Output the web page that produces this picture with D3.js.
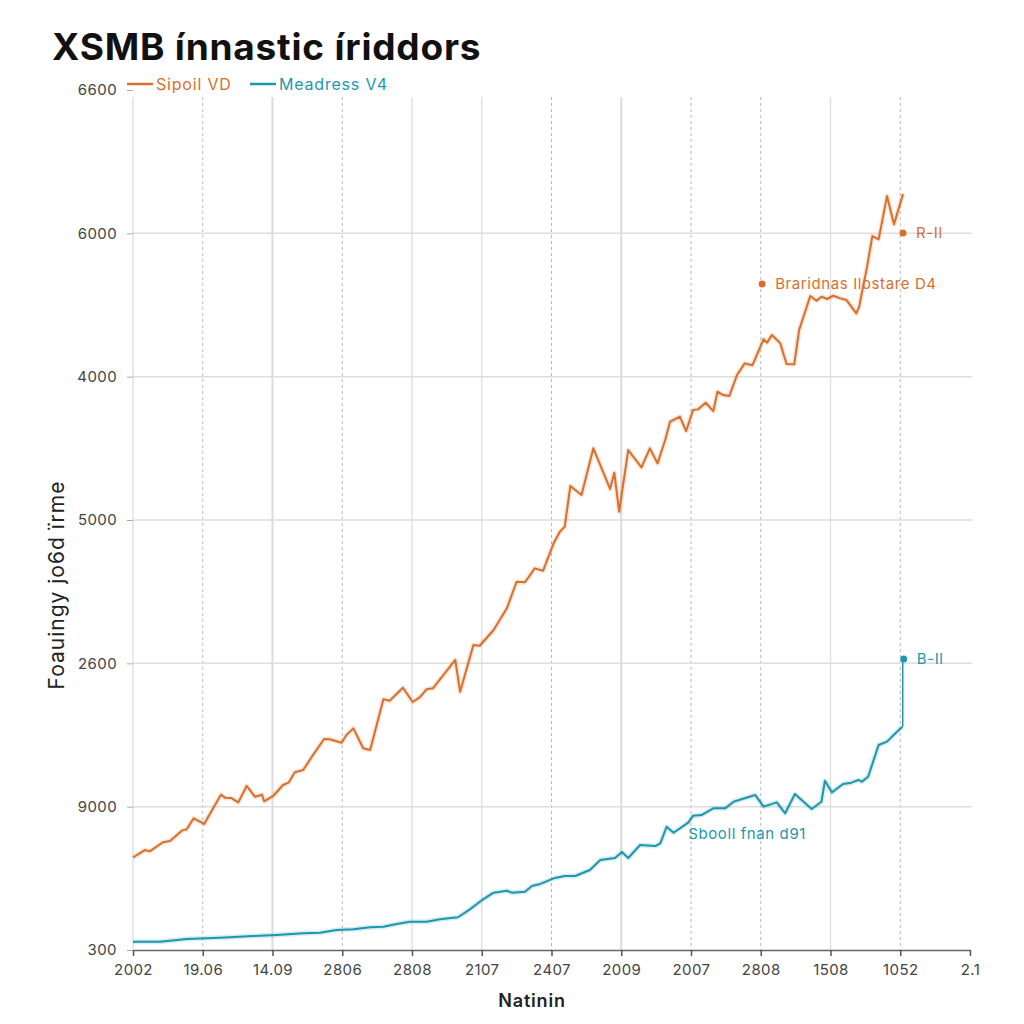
<!DOCTYPE html>
<html><head><meta charset="utf-8">
<script src="https://cdn.jsdelivr.net/npm/d3@7/dist/d3.min.js"></script>
<style>body{margin:0;background:#fff}svg{display:block}</style>
</head><body>
<svg id="c" width="1024" height="1024"></svg>
<script>
// ---- data ----
const xTickLabels = ["2002","19.06","14.09","2806","2808","2107","2407","2009","2007","2808","1508","1052","2.1"];
const xTickStyles = ["solid","dot","thick","dot","solid","solid","dot","thick","dot","dot","solid","dot","none"];
const yTickLabels = ["300","9000","2600","5000","4000","6000","6600"];
const seriesNames = ["Sipoil VD","Meadress V4"];
const seriesColors = ["#d6702f","#1e97ad"];
const orangeX = [0,1.7,2.4,4.3,5.3,7.0,7.7,8.7,10.2,12.6,13.2,14.1,15.1,16.3,17.5,18.5,18.8,20.1,21.5,22.3,23.2,24.4,25.8,27.4,28.2,29.9,30.6,31.6,33.0,34.0,35.9,36.8,38.7,40.1,41.1,42.1,43.0,46.2,46.9,48.8,49.7,51.7,53.6,55.0,56.2,57.6,58.8,60.3,61.2,61.9,62.7,64.3,66.0,68.4,69.0,69.7,71.0,72.9,74.1,75.2,76.3,77.0,78.4,79.3,80.3,81.0,82.1,83.2,83.8,84.6,85.5,86.6,87.7,88.8,90.4,90.9,91.6,92.8,93.7,94.8,95.5,97.1,98.0,98.7,99.5,100.4,101.4,102.3,103.7,104.1,105.2,106.0,106.9,108.1,109.1,110.4];
const orangeY = [710,767,757,827,836,916,926,1011,967,1192,1169,1166,1133,1259,1176,1192,1141,1182,1266,1284,1364,1381,1496,1619,1617,1591,1650,1701,1548,1535,1924,1913,2013,1903,1939,2001,2008,2226,1982,2341,2335,2456,2622,2826,2822,2929,2911,3121,3210,3249,3561,3492,3850,3538,3663,3364,3837,3704,3850,3735,3914,4054,4093,3983,4144,4149,4200,4136,4285,4259,4252,4413,4502,4487,4687,4661,4720,4656,4497,4495,4758,5019,4983,5014,4996,5021,5001,4988,4886,4937,5231,5479,5454,5786,5569,5802];
const tealX = [0,3.9,7.7,12.5,17.2,20.6,24.4,26.8,29.2,31.6,34.0,35.9,37.8,39.7,42.1,44.0,46.6,48.3,50.2,51.7,53.6,54.3,56.2,57.2,58.4,60.5,61.9,63.4,65.5,67.0,69.1,70.1,71.0,72.7,74.9,75.6,76.5,77.5,79.6,80.3,81.5,83.2,84.9,86.1,89.2,90.4,92.3,93.5,94.9,97.3,98.7,99.2,100.2,101.8,103.0,104.0,104.5,105.4,106.9,108.1,109.2,110.3];
const tealY = [64,64,84,94,107,115,128,133,153,159,174,179,200,217,217,236,251,312,389,440,455,440,447,491,507,553,568,568,614,691,706,752,706,806,798,819,946,900,977,1031,1036,1087,1087,1138,1190,1100,1133,1049,1197,1082,1138,1299,1210,1274,1284,1305,1292,1330,1573,1599,1658,1714];
const annotations = [
  {x:90.2, y:5111, text:"Braridnas Ilostare D4", color:0, dot:true},
  {x:110.4, y:5502, text:"R-Il", color:0, dot:true},
  {x:110.5, y:2233, text:"B-Il", color:1, dot:true, stemFrom:1714},
  {x:79.6, y:890, text:"Sbooll fnan d91", color:1, dot:false}
];

// ---- layout ----
const svg = d3.select("#c");
const m = {l:133, r:970, t:90, b:950};
const x = d3.scaleLinear().domain([0,120]).range([m.l, m.r]);
const y = d3.scaleLinear().domain([0,6600]).range([m.b, m.t]);
const yTickVals = d3.range(7).map(i => i*1100);
const xTickVals = d3.range(13).map(i => i*10);
const FONT = "Inter, 'Open Sans', sans-serif";

// vertical grid
const vg = svg.append("g");
xTickVals.forEach((v,i) => {
  const s = xTickStyles[i];
  if (s === "none") return;
  vg.append("line").attr("x1", x(v)).attr("x2", x(v)).attr("y1", 97).attr("y2", m.b)
    .attr("stroke", s === "dot" ? "#b8b8b8" : "#dedede")
    .attr("stroke-width", s === "thick" ? 2.2 : (s === "dot" ? 1 : 1.3))
    .attr("stroke-dasharray", s === "dot" ? "3,3" : null);
});
// horizontal grid
yTickVals.slice(1,6).forEach(v => {
  svg.append("line").attr("x1", m.l).attr("x2", 972).attr("y1", y(v)).attr("y2", y(v))
    .attr("stroke", "#dedede").attr("stroke-width", 1.5);
});

// y axis
const yAxis = d3.axisLeft(y).tickValues(yTickVals).tickFormat((d,i) => yTickLabels[i]).tickSize(6).tickPadding(10);
const ya = svg.append("g").attr("transform", `translate(${m.l},0)`).call(yAxis);
ya.select(".domain").remove();
ya.selectAll(".tick line").attr("stroke", "#aaa");
ya.selectAll(".tick text").attr("font-family", FONT).attr("font-size", 15).attr("letter-spacing", 0.4).attr("fill", "#444");

// x axis
const xAxis = d3.axisBottom(x).tickValues(xTickVals).tickFormat((d,i) => xTickLabels[i]).tickSize(6).tickPadding(8).tickSizeOuter(0);
const xa = svg.append("g").attr("transform", `translate(0,${m.b})`).call(xAxis);
xa.select(".domain").attr("stroke", "#666").attr("stroke-width", 1.5);
xa.selectAll(".tick line").attr("stroke", "#555").attr("stroke-width", 1.5);
xa.selectAll(".tick text").attr("font-family", FONT).attr("font-size", 15).attr("letter-spacing", 0.4).attr("fill", "#444");

// lines
const line = d3.line().x(d => x(d[0])).y(d => y(d[1]));
const seriesData = [d3.zip(orangeX, orangeY), d3.zip(tealX, tealY)];
seriesData.forEach((data, i) => {
  svg.append("path").datum(data).attr("d", line).attr("fill", "none")
    .attr("stroke", seriesColors[i]).attr("stroke-opacity", 0.18).attr("stroke-width", 5).attr("stroke-linejoin", "round");
  svg.append("path").datum(data).attr("d", line).attr("fill", "none")
    .attr("stroke", seriesColors[i]).attr("stroke-width", 2).attr("stroke-linejoin", "round");
});

// annotations
annotations.forEach(a => {
  const c = seriesColors[a.color];
  if (a.stemFrom !== undefined) {
    svg.append("line").attr("x1", x(a.x)-1).attr("x2", x(a.x)-1).attr("y1", y(a.stemFrom)).attr("y2", y(a.y))
      .attr("stroke", c).attr("stroke-width", 1.5);
  }
  if (a.dot) {
    svg.append("circle").attr("cx", x(a.x)).attr("cy", y(a.y)).attr("r", 3.5).attr("fill", c);
  }
  svg.append("text").attr("x", x(a.x) + (a.dot ? 13 : 0)).attr("y", y(a.y) + 5)
    .attr("font-family", FONT).attr("font-size", 15).attr("letter-spacing", 0.6).attr("fill", c)
    .text(a.text);
});

// title
svg.append("text").attr("x", 52).attr("y", 60).attr("font-family", "Inter, sans-serif").attr("font-weight", 700)
  .attr("font-size", 37).attr("fill", "#111").attr("letter-spacing", 0.8).text("XSMB ínnastic íriddors");

// legend
const lg = svg.append("g");
const legX = [127, 250];
seriesNames.forEach((n, i) => {
  lg.append("line").attr("x1", legX[i]).attr("x2", legX[i]+26).attr("y1", 84).attr("y2", 84)
    .attr("stroke", seriesColors[i]).attr("stroke-width", 2.5);
  lg.append("text").attr("x", legX[i]+29).attr("y", 90).attr("font-family", FONT)
    .attr("font-size", 16).attr("letter-spacing", 0.8).attr("fill", seriesColors[i]).text(n);
});

// axis titles
svg.append("text").attr("x", 532).attr("y", 1007).attr("text-anchor", "middle")
  .attr("font-family", "Inter, sans-serif").attr("font-weight", 600).attr("font-size", 18).attr("letter-spacing", 0.8).attr("fill", "#222").text("Natinin");
svg.append("text").attr("transform", "translate(64,585) rotate(-90)").attr("text-anchor", "middle")
  .attr("font-family", "Inter, sans-serif").attr("font-size", 21).attr("letter-spacing", 1).attr("fill", "#222").text("Foauingy jo6d ïrme");
</script>
</body></html>
